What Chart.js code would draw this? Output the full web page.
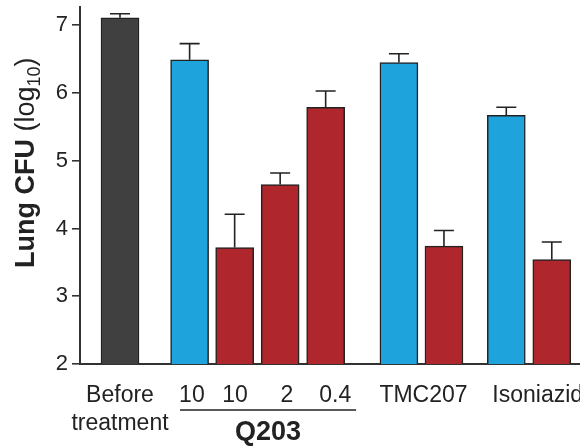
<!DOCTYPE html>
<html>
<head>
<meta charset="utf-8">
<script src="https://cdn.jsdelivr.net/npm/chart.js@4/dist/chart.umd.min.js"></script>
<style>
  html, body { margin: 0; padding: 0; background: #ffffff; }
  #wrap { width: 580px; height: 446px; }
</style>
</head>
<body>
<div id="wrap"><canvas id="cfu" width="580" height="446"></canvas></div>
<script>
// Lung bacterial load (log10 CFU) per treatment group, mean and SEM
const barSlots  = [0, 1.53, 2.52, 3.52, 4.52, 6.13, 7.12, 8.49, 9.49];
const cfuMeans  = [7.11, 6.49, 3.72, 4.65, 5.79, 6.45, 3.74, 5.67, 3.54];
const cfuSem    = [0.06, 0.24, 0.49, 0.17, 0.24, 0.13, 0.23, 0.12, 0.26];
const barGroups = ['baseline', 'control', 'treated', 'treated', 'treated',
                   'control', 'treated', 'control', 'treated'];

// axis labels under the bars
const doseLabels = ['10', '10', '2', '0.4'];
const doseSlots  = [1.58, 2.53, 3.67, 4.73];
const drugLabels = ['TMC207', 'Isoniazid'];
const drugSlots  = [6.67, 9.18];
const baselineLines = ['Before', 'treatment'];
const baselineSlot  = 0;
const q203Label = 'Q203';
const q203Span  = [1.32, 5.19];

const yTicks = [2, 3, 4, 5, 6, 7];

const groupColor = { baseline: '#404040', control: '#1fa3dd', treated: '#b0262d' };
const INK = '#222222';
const FONT = '"Liberation Sans", Arial, Helvetica, sans-serif';

const points = barSlots.map((s, i) => ({ x: s, y: cfuMeans[i] }));

// SEM whiskers above each bar
const errorBars = {
  id: 'errorBars',
  afterDatasetsDraw(chart) {
    const ctx = chart.ctx;
    const y = chart.scales.y;
    const meta = chart.getDatasetMeta(0);
    ctx.save();
    ctx.strokeStyle = INK;
    ctx.lineWidth = 1.6;
    meta.data.forEach((bar, i) => {
      const top = y.getPixelForValue(cfuMeans[i] + cfuSem[i]);
      ctx.beginPath();
      ctx.moveTo(bar.x, bar.y);
      ctx.lineTo(bar.x, top);
      ctx.moveTo(bar.x - 10, top);
      ctx.lineTo(bar.x + 10, top);
      ctx.stroke();
    });
    ctx.restore();
  }
};

// group labels, Q203 bracket and the mixed-style y title
const annotations = {
  id: 'annotations',
  afterDraw(chart) {
    const ctx = chart.ctx;
    const x = chart.scales.x;
    ctx.save();
    ctx.fillStyle = INK;
    ctx.textAlign = 'center';
    ctx.textBaseline = 'alphabetic';
    ctx.font = '23px ' + FONT;
    const bx = x.getPixelForValue(baselineSlot);
    ctx.fillText(baselineLines[0], bx, 402);
    ctx.fillText(baselineLines[1], bx, 430);
    doseLabels.forEach((t, i) => ctx.fillText(t, x.getPixelForValue(doseSlots[i]), 402));
    drugLabels.forEach((t, i) => ctx.fillText(t, x.getPixelForValue(drugSlots[i]), 402));

    // Q203 bracket line
    ctx.strokeStyle = INK;
    ctx.lineWidth = 1.6;
    ctx.beginPath();
    ctx.moveTo(x.getPixelForValue(q203Span[0]), 410);
    ctx.lineTo(x.getPixelForValue(q203Span[1]), 410);
    ctx.stroke();
    ctx.font = 'bold 27px ' + FONT;
    ctx.fillText(q203Label, x.getPixelForValue((q203Span[0] + q203Span[1]) / 2), 440);

    // y title: "Lung CFU (log10)" with subscript
    ctx.translate(34, 268);
    ctx.rotate(-Math.PI / 2);
    ctx.textAlign = 'left';
    let cx = 0;
    const part = (txt, font, dy) => {
      ctx.font = font;
      ctx.fillText(txt, cx, dy);
      cx += ctx.measureText(txt).width;
    };
    part('Lung CFU ', 'bold 27px ' + FONT, 0);
    part('(log', '27px ' + FONT, 0);
    part('10', '18px ' + FONT, 6);
    part(')', '27px ' + FONT, 0);
    ctx.restore();
  }
};

new Chart(document.getElementById('cfu'), {
  type: 'bar',
  data: {
    datasets: [{
      data: points,
      backgroundColor: barGroups.map(g => groupColor[g]),
      borderColor: INK,
      borderWidth: 1.5,
      barThickness: 38
    }]
  },
  options: {
    responsive: false,
    animation: false,
    devicePixelRatio: 1,
    layout: { padding: { top: 7, left: 0, right: 0, bottom: 0 } },
    plugins: { legend: { display: false }, tooltip: { enabled: false } },
    scales: {
      x: {
        type: 'linear',
        offset: false,
        min: -0.879,
        max: 10.11,
        grid: { display: true, drawOnChartArea: false, drawTicks: false },
        border: { display: true, color: '#333333', width: 2 },
        ticks: { display: false },
        afterFit(scale) {
          scale.height = 82;
          scale.paddingLeft = 0;
          scale.paddingRight = 0;
        }
      },
      y: {
        min: 2,
        max: 7.27,
        afterBuildTicks(scale) {
          scale.ticks = yTicks.map(v => ({ value: v }));
        },
        grid: {
          drawOnChartArea: false,
          drawTicks: true,
          tickLength: 8,
          color: '#333333',
          lineWidth: 1.6
        },
        border: { display: true, color: '#333333', width: 2 },
        ticks: {
          color: INK,
          padding: 4,
          font: { family: FONT, size: 22 },
          callback: v => String(v)
        },
        afterFit(scale) {
          scale.width = 80;
          scale.paddingTop = 0;
          scale.paddingBottom = 0;
        }
      }
    }
  },
  plugins: [errorBars, annotations]
});
</script>
</body>
</html>
